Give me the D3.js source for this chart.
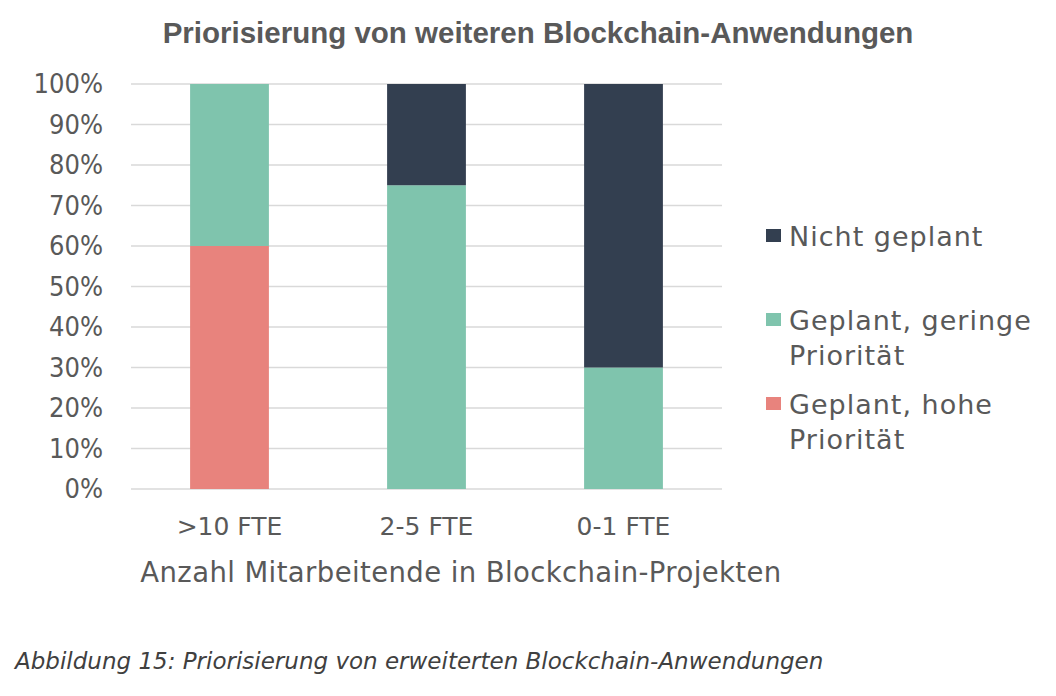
<!DOCTYPE html>
<html><head><meta charset="utf-8">
<script src="https://cdn.jsdelivr.net/npm/d3@7"></script>
<style>body{margin:0;background:#fff}svg{display:block}</style>
</head><body>
<svg id="c" width="1056" height="696"></svg>
<script>
const categories = [">10 FTE", "2-5 FTE", "0-1 FTE"];
const seriesNames = ["Geplant, hohe Priorität", "Geplant, geringe Priorität", "Nicht geplant"];
const hohe = [60, 0, 0];
const geringe = [40, 75, 30];
const nicht = [0, 25, 70];
const yTicks = [0,10,20,30,40,50,60,70,80,90,100];
const colors = ["#E8837D", "#7FC4AD", "#333F50"];
const legendLines = [["Nicht geplant"], ["Geplant, geringe", "Priorität"], ["Geplant, hohe", "Priorität"]];

const svg = d3.select("#c");
const font = "'DejaVu Sans', sans-serif";
const gray = "#595959";
const x = d3.scaleBand().domain(categories).range([131, 722]).paddingInner(0.6).paddingOuter(0.3);
const y = d3.scaleLinear().domain([0, 100]).range([489, 84]);

svg.append("text").attr("x", 538).attr("y", 43).attr("text-anchor", "middle")
  .attr("font-family", "'Liberation Sans',sans-serif").attr("font-weight", "bold")
  .attr("font-size", 29.5).attr("fill", gray).text("Priorisierung von weiteren Blockchain-Anwendungen");

// grid
svg.append("g").selectAll("line").data(yTicks).join("line")
  .attr("x1", 131).attr("x2", 722).attr("y1", d => y(d)).attr("y2", d => y(d))
  .attr("stroke", "#D9D9D9").attr("stroke-width", 1.5);

const data = categories.map((c, i) => ({cat: c, s0: hohe[i], s1: geringe[i], s2: nicht[i]}));
const stack = d3.stack().keys(["s0", "s1", "s2"])(data);
svg.append("g").selectAll("g").data(stack).join("g").attr("fill", (d, i) => colors[i])
  .selectAll("rect").data(d => d).join("rect")
  .attr("x", d => x(d.data.cat)).attr("width", x.bandwidth())
  .attr("y", d => y(d[1])).attr("height", d => y(d[0]) - y(d[1]));

// y axis
const ya = svg.append("g").attr("transform", "translate(131,0)")
  .call(d3.axisLeft(y).tickValues(yTicks).tickFormat(d => d + "%").tickSize(0).tickPadding(28));
ya.select(".domain").remove();
ya.selectAll("text").attr("font-family", "'DejaVu Sans Condensed', sans-serif")
  .attr("font-size", 27).attr("fill", gray);

// x axis
const xa = svg.append("g").attr("transform", "translate(0,489)")
  .call(d3.axisBottom(x).tickSize(0).tickPadding(28));
xa.select(".domain").remove();
xa.selectAll("text").attr("font-family", font).attr("font-size", 25).attr("fill", gray);

svg.append("text").attr("x", 461).attr("y", 582).attr("text-anchor", "middle")
  .attr("font-family", font).attr("font-size", 27.5).attr("letter-spacing", 0.4).attr("fill", gray)
  .text("Anzahl Mitarbeitende in Blockchain-Projekten");

// legend
const legY = [229, 313, 397];
const lg = svg.append("g");
legendLines.forEach((lines, i) => {
  lg.append("rect").attr("x", 766).attr("y", legY[i]).attr("width", 15).attr("height", 13)
    .attr("fill", colors[2 - i]);
  lines.forEach((t, j) => {
    lg.append("text").attr("x", 789).attr("y", legY[i] + 17 + j * 35)
      .attr("font-family", font).attr("font-size", 27).attr("letter-spacing", 1).attr("fill", gray).text(t);
  });
});

svg.append("text").attr("x", 15).attr("y", 669).attr("font-family", font)
  .attr("font-style", "italic").attr("font-size", 23).attr("fill", "#404040")
  .text("Abbildung 15: Priorisierung von erweiterten Blockchain-Anwendungen");
</script>
</body></html>
